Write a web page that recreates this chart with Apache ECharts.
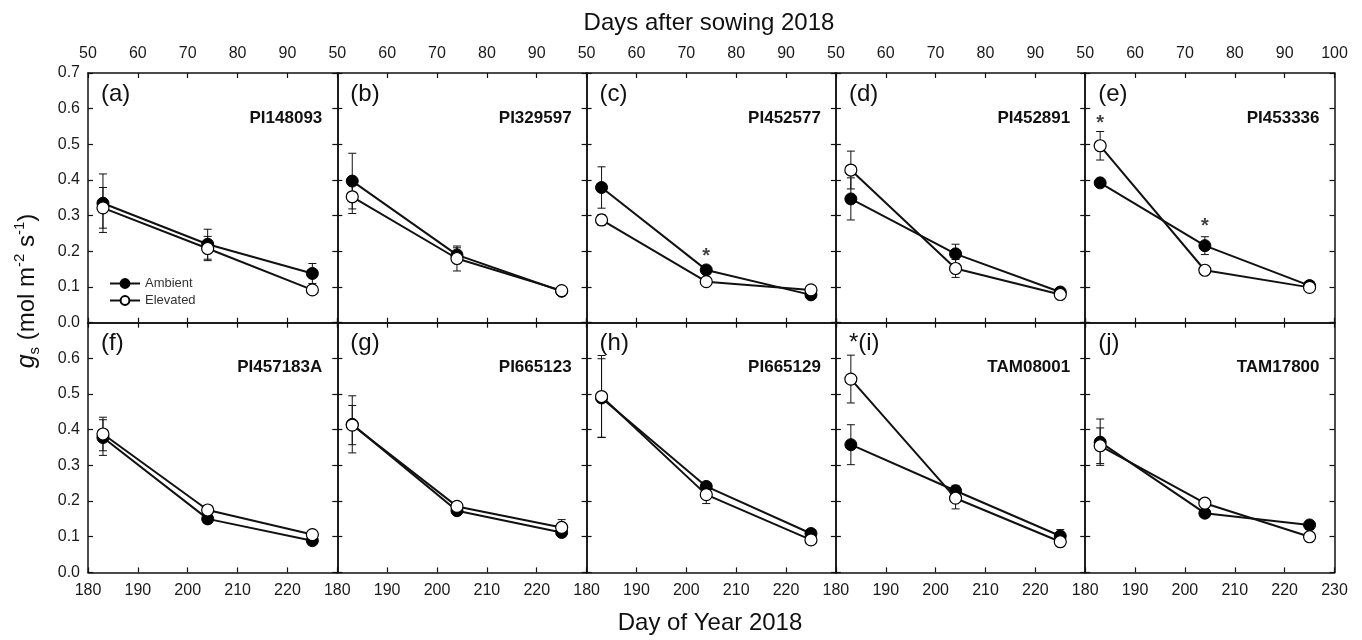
<!DOCTYPE html>
<html>
<head>
<meta charset="utf-8">
<title>gs by genotype</title>
<script src="https://cdn.jsdelivr.net/npm/echarts@6/dist/echarts.min.js"></script>
<style>
  html, body { margin: 0; padding: 0; background: #fff; }
  #main { width: 1362px; height: 640px; }
</style>
</head>
<body>
<div id="main"></div>
<script>
// ---- data ----
const doy = [183, 204, 225]
const doyRange = [180, 230]
const dasRange = [50, 100]
const yRange = [0, 0.7]
const panelLabels = ['(a)', '(b)', '(c)', '(d)', '(e)', '(f)', '(g)', '(h)', '*(i)', '(j)']
const genotypes = ['PI148093', 'PI329597', 'PI452577', 'PI452891', 'PI453336',
  'PI457183A', 'PI665123', 'PI665129', 'TAM08001', 'TAM17800']

const ambient = [
  [0.335, 0.220, 0.138], [0.397, 0.190, 0.088], [0.379, 0.148, 0.078], [0.347, 0.193, 0.086], [0.392, 0.216, 0.104],
  [0.378, 0.150, 0.089], [0.415, 0.173, 0.112], [0.489, 0.241, 0.109], [0.358, 0.229, 0.102], [0.365, 0.166, 0.133]
]
const ambientErr = [
  [0.082, 0.042, 0.028], [0.078, 0.020, 0.005], [0.058, 0.008, 0.005], [0.059, 0.027, 0.005], [0.008, 0.025, 0.008],
  [0.050, 0.008, 0.008], [0.080, 0.005, 0.010], [0.110, 0.008, 0.010], [0.056, 0.015, 0.018], [0.065, 0.008, 0.008]
]
const elevated = [
  [0.322, 0.208, 0.092], [0.353, 0.180, 0.090], [0.288, 0.115, 0.092], [0.428, 0.152, 0.079], [0.496, 0.147, 0.099],
  [0.388, 0.175, 0.106], [0.413, 0.185, 0.126], [0.493, 0.218, 0.091], [0.542, 0.208, 0.086], [0.355, 0.194, 0.100]
]
const elevatedErr = [
  [0.057, 0.034, 0.010], [0.047, 0.035, 0.005], [0.015, 0.005, 0.005], [0.053, 0.025, 0.005], [0.040, 0.005, 0.010],
  [0.047, 0.008, 0.010], [0.055, 0.005, 0.022], [0.115, 0.025, 0.005], [0.067, 0.030, 0.008], [0.050, 0.008, 0.005]
]
// significance stars: [panel, day of year, gs]
const stars = [[2, 204, 0.199], [4, 183, 0.573], [4, 204, 0.283]]

// ---- layout ----
const FONT = '"Liberation Sans", Arial, sans-serif'
const gridLeft = 88
const gridTop = 73
const cellW = 249.3
const cellH = 249.7
const ink = '#111'

const myChart = echarts.init(document.querySelector('#main'))

const grid = []
const xAxis = []
const yAxis = []
const series = []
const graphic = []

const axisLine = { show: true, onZero: false, lineStyle: { color: ink, width: 1.5 } }
const axisTick = { show: true, inside: true, length: 5, lineStyle: { color: ink, width: 1.2 } }
const tickFont = { color: '#1a1a1a', fontSize: 16, fontFamily: FONT }

// error bar drawing
const renderErr = (params, api) => {
  const x = api.value(0)
  const top = api.coord([x, api.value(2)])
  const bot = api.coord([x, api.value(1)])
  const w = 4
  const style = { stroke: ink, lineWidth: 1 }
  return {
    type: 'group',
    children: [
      { type: 'line', shape: { x1: top[0], y1: top[1], x2: bot[0], y2: bot[1] }, style },
      { type: 'line', shape: { x1: top[0] - w, y1: top[1], x2: top[0] + w, y2: top[1] }, style },
      { type: 'line', shape: { x1: bot[0] - w, y1: bot[1], x2: bot[0] + w, y2: bot[1] }, style }
    ]
  }
}

genotypes.forEach((name, p) => {
  const r = Math.floor(p / 5)
  const c = p % 5
  const gl = gridLeft + c * cellW
  const gt = gridTop + r * cellH
  grid.push({ left: gl, top: gt, width: cellW, height: cellH })

  // bottom: day of year
  xAxis.push({
    type: 'value', gridIndex: p, position: 'bottom',
    min: doyRange[0], max: doyRange[1], interval: 10,
    axisLine, axisTick, splitLine: { show: false },
    axisLabel: { ...tickFont, show: r === 1, showMinLabel: true, showMaxLabel: c === 4, margin: 10 }
  })
  // top: days after sowing
  xAxis.push({
    type: 'value', gridIndex: p, position: 'top',
    min: dasRange[0], max: dasRange[1], interval: 10,
    axisLine, axisTick, splitLine: { show: false },
    axisLabel: { ...tickFont, show: r === 0, showMinLabel: true, showMaxLabel: c === 4, margin: 11 }
  })
  yAxis.push({
    type: 'value', gridIndex: p, position: 'left',
    min: yRange[0], max: yRange[1], interval: 0.1,
    axisLine, axisTick, splitLine: { show: false },
    axisLabel: { ...tickFont, show: c === 0, showMinLabel: true, showMaxLabel: r === 0, margin: 8,
      formatter: v => v.toFixed(1) }
  })
  yAxis.push({
    type: 'value', gridIndex: p, position: 'right',
    min: yRange[0], max: yRange[1], interval: 0.1,
    axisLine, axisTick, splitLine: { show: false }, axisLabel: { show: false }
  })

  const errData = []
  doy.forEach((d, i) => {
    errData.push([d, ambient[p][i] - ambientErr[p][i], ambient[p][i] + ambientErr[p][i]])
    errData.push([d, elevated[p][i] - elevatedErr[p][i], elevated[p][i] + elevatedErr[p][i]])
  })
  series.push({
    type: 'custom', name: 'err', xAxisIndex: 2 * p, yAxisIndex: 2 * p, z: 1,
    renderItem: renderErr, encode: { x: 0, y: [1, 2] }, data: errData
  })
  series.push({
    type: 'line', name: 'Ambient', xAxisIndex: 2 * p, yAxisIndex: 2 * p, z: 2,
    data: doy.map((d, i) => [d, ambient[p][i]]),
    symbol: 'circle', symbolSize: 12,
    lineStyle: { color: ink, width: 2 },
    itemStyle: { color: '#000', borderColor: '#000', borderWidth: 1 }
  })
  series.push({
    type: 'line', name: 'Elevated', xAxisIndex: 2 * p, yAxisIndex: 2 * p, z: 3,
    data: doy.map((d, i) => [d, elevated[p][i]]),
    symbol: 'circle', symbolSize: 12,
    lineStyle: { color: ink, width: 2 },
    itemStyle: { color: '#fff', borderColor: '#000', borderWidth: 1.2 }
  })

  // panel letter + genotype name
  graphic.push({
    type: 'text', x: gl + 13, y: gt + 21, z: 10,
    style: { text: panelLabels[p], font: `24px ${FONT}`, fill: ink, align: 'left', verticalAlign: 'middle' }
  })
  graphic.push({
    type: 'text', x: gl + cellW - 15, y: gt + 45, z: 10,
    style: { text: name, font: `bold 17px ${FONT}`, fill: ink, align: 'right', verticalAlign: 'middle' }
  })
})

// stars
stars.forEach(([p, d, v]) => {
  series.push({
    type: 'scatter', name: 'star', xAxisIndex: 2 * p, yAxisIndex: 2 * p, z: 4,
    data: [[d, v]], symbolSize: 0, silent: true,
    label: { show: true, position: 'inside', formatter: '*', offset: [0, 5],
      fontSize: 20, fontWeight: 'bold', fontFamily: FONT, color: ink }
  })
})

// axis titles
graphic.push({
  type: 'text', x: 709, y: 23,
  style: { text: 'Days after sowing 2018', font: `24px ${FONT}`, fill: ink, align: 'center', verticalAlign: 'middle' }
})
graphic.push({
  type: 'text', x: 710, y: 623,
  style: { text: 'Day of Year 2018', font: `24px ${FONT}`, fill: ink, align: 'center', verticalAlign: 'middle' }
})
graphic.push({
  type: 'text', x: 27, y: 291, rotation: Math.PI / 2,
  style: {
    text: '{i|g}{sub|s}{n| (mol m}{sup|-2}{n| s}{sup|-1}{n|)}',
    align: 'center', verticalAlign: 'middle', fill: ink,
    rich: {
      i: { fontSize: 25, fontStyle: 'italic', fontFamily: FONT, lineHeight: 30, fill: ink },
      n: { fontSize: 24, fontFamily: FONT, lineHeight: 30, fill: ink },
      sub: { fontSize: 15, fontFamily: FONT, lineHeight: 15, verticalAlign: 'bottom', fill: ink },
      sup: { fontSize: 15, fontFamily: FONT, lineHeight: 15, verticalAlign: 'top', fill: ink }
    }
  }
})

const option = {
  animation: false,
  backgroundColor: '#fff',
  legend: {
    data: ['Ambient', 'Elevated'],
    orient: 'vertical', left: 104, top: 272,
    itemWidth: 30, itemHeight: 11, itemGap: 4,
    selectedMode: false,
    textStyle: { fontSize: 13, fontFamily: FONT, color: '#333' }
  },
  grid, xAxis, yAxis, series, graphic
}
myChart.setOption(option)
</script>
</body>
</html>
